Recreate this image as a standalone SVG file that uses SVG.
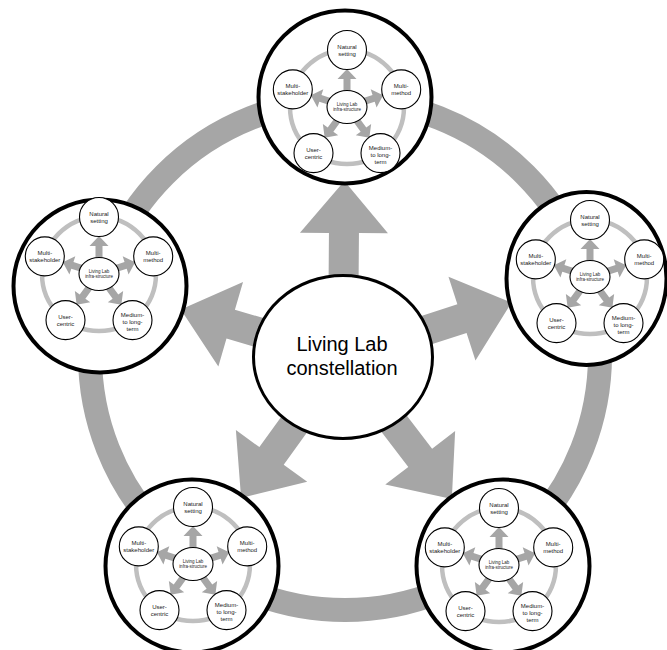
<svg xmlns="http://www.w3.org/2000/svg" xmlns:xlink="http://www.w3.org/1999/xlink" width="667" height="650" viewBox="0 0 667 650">
<style>
.ring{fill:none;stroke:#a6a6a6;stroke-width:24}
.arr{fill:#a6a6a6}
.big{fill:#fff;stroke:#000;stroke-width:4}
.ctr{fill:#fff;stroke:#000;stroke-width:3}
.iring{fill:none;stroke:#bfbfbf;stroke-width:4.5}
.iarr{fill:#a6a6a6}
.sc{fill:#fff;stroke:#000;stroke-width:1.1}
.t{font-family:"Liberation Sans",Arial,sans-serif;font-size:6px;text-anchor:middle;fill:#1a1a1a}
.ct{font-size:4.5px}
.main{font-family:"Liberation Sans",Arial,sans-serif;font-size:20px;text-anchor:middle;fill:#000}
</style>
<defs>
<path id="ia" d="M8,-3.5 H28 V-9.5 L38,0 L28,9.5 V3.5 H8 Z"/>
</defs>
<rect width="667" height="650" fill="#fff"/>
<g id="connectors">
<circle class="ring" cx="345" cy="355" r="255"/>
<path class="arr" transform="translate(343,357) rotate(-89.56)" d="M50,-15 H124 V-44 L176,0 L124,44 V15 H50 Z"/>
<path class="arr" transform="translate(343,357) rotate(-163.71)" d="M50,-15 H117 V-44 L169,0 L117,44 V15 H50 Z"/>
<path class="arr" transform="translate(343,357) rotate(-17.87)" d="M50,-15 H125 V-44 L177,0 L125,44 V15 H50 Z"/>
<path class="arr" transform="translate(343,357) rotate(125.85)" d="M50,-15 H122 V-44 L174,0 L122,44 V15 H50 Z"/>
<path class="arr" transform="translate(343,357) rotate(52.56)" d="M50,-15 H127 V-44 L179,0 L127,44 V15 H50 Z"/>
</g>
<g id="center">
<ellipse class="ctr" cx="343" cy="357" rx="89.5" ry="81.5"/>
<text class="main" x="342" y="351">Living Lab</text>
<text class="main" x="342" y="375">constellation</text>
</g>
<g id="node-top">
<circle class="big" cx="345" cy="97" r="86.5"/>
<g transform="translate(347,107)">
<circle class="iring" r="57"/>
<use xlink:href="#ia" class="iarr" transform="rotate(-90)"/>
<use xlink:href="#ia" class="iarr" transform="rotate(-18)"/>
<use xlink:href="#ia" class="iarr" transform="rotate(54)"/>
<use xlink:href="#ia" class="iarr" transform="rotate(126)"/>
<use xlink:href="#ia" class="iarr" transform="rotate(198)"/>
<ellipse class="sc" rx="20" ry="16.5"/>
<text class="t ct" y="-1.5">Living Lab</text><text class="t ct" y="4">infra-structure</text>
<circle class="sc" cx="0" cy="-57" r="19.5"/>
<text class="t" x="0" y="-58">Natural</text><text class="t" x="0" y="-51">setting</text>
<circle class="sc" cx="54.2" cy="-17.6" r="19.5"/>
<text class="t" x="54.2" y="-18.6">Multi-</text><text class="t" x="54.2" y="-11.6">method</text>
<circle class="sc" cx="33.5" cy="46.1" r="19.5"/>
<text class="t" x="33.5" y="42.6">Medium-</text><text class="t" x="33.5" y="49.6">to long-</text><text class="t" x="33.5" y="56.6">term</text>
<circle class="sc" cx="-33.5" cy="46.1" r="19.5"/>
<text class="t" x="-33.5" y="45.1">User-</text><text class="t" x="-33.5" y="52.1">centric</text>
<circle class="sc" cx="-54.2" cy="-17.6" r="19.5"/>
<text class="t" x="-54.2" y="-18.6">Multi-</text><text class="t" x="-54.2" y="-11.6">stakeholder</text>
</g>
</g>
<g id="node-left">
<circle class="big" cx="100" cy="286" r="86.5"/>
<g transform="translate(99,274)">
<circle class="iring" r="57"/>
<use xlink:href="#ia" class="iarr" transform="rotate(-90)"/>
<use xlink:href="#ia" class="iarr" transform="rotate(-18)"/>
<use xlink:href="#ia" class="iarr" transform="rotate(54)"/>
<use xlink:href="#ia" class="iarr" transform="rotate(126)"/>
<use xlink:href="#ia" class="iarr" transform="rotate(198)"/>
<ellipse class="sc" rx="20" ry="16.5"/>
<text class="t ct" y="-1.5">Living Lab</text><text class="t ct" y="4">infra-structure</text>
<circle class="sc" cx="0" cy="-57" r="19.5"/>
<text class="t" x="0" y="-58">Natural</text><text class="t" x="0" y="-51">setting</text>
<circle class="sc" cx="54.2" cy="-17.6" r="19.5"/>
<text class="t" x="54.2" y="-18.6">Multi-</text><text class="t" x="54.2" y="-11.6">method</text>
<circle class="sc" cx="33.5" cy="46.1" r="19.5"/>
<text class="t" x="33.5" y="42.6">Medium-</text><text class="t" x="33.5" y="49.6">to long-</text><text class="t" x="33.5" y="56.6">term</text>
<circle class="sc" cx="-33.5" cy="46.1" r="19.5"/>
<text class="t" x="-33.5" y="45.1">User-</text><text class="t" x="-33.5" y="52.1">centric</text>
<circle class="sc" cx="-54.2" cy="-17.6" r="19.5"/>
<text class="t" x="-54.2" y="-18.6">Multi-</text><text class="t" x="-54.2" y="-11.6">stakeholder</text>
</g>
</g>
<g id="node-right">
<ellipse class="big" cx="586.5" cy="278.5" rx="80" ry="86.5"/>
<g transform="translate(590,277)">
<circle class="iring" r="57"/>
<use xlink:href="#ia" class="iarr" transform="rotate(-90)"/>
<use xlink:href="#ia" class="iarr" transform="rotate(-18)"/>
<use xlink:href="#ia" class="iarr" transform="rotate(54)"/>
<use xlink:href="#ia" class="iarr" transform="rotate(126)"/>
<use xlink:href="#ia" class="iarr" transform="rotate(198)"/>
<ellipse class="sc" rx="20" ry="16.5"/>
<text class="t ct" y="-1.5">Living Lab</text><text class="t ct" y="4">infra-structure</text>
<circle class="sc" cx="0" cy="-57" r="19.5"/>
<text class="t" x="0" y="-58">Natural</text><text class="t" x="0" y="-51">setting</text>
<circle class="sc" cx="54.2" cy="-17.6" r="19.5"/>
<text class="t" x="54.2" y="-18.6">Multi-</text><text class="t" x="54.2" y="-11.6">method</text>
<circle class="sc" cx="33.5" cy="46.1" r="19.5"/>
<text class="t" x="33.5" y="42.6">Medium-</text><text class="t" x="33.5" y="49.6">to long-</text><text class="t" x="33.5" y="56.6">term</text>
<circle class="sc" cx="-33.5" cy="46.1" r="19.5"/>
<text class="t" x="-33.5" y="45.1">User-</text><text class="t" x="-33.5" y="52.1">centric</text>
<circle class="sc" cx="-54.2" cy="-17.6" r="19.5"/>
<text class="t" x="-54.2" y="-18.6">Multi-</text><text class="t" x="-54.2" y="-11.6">stakeholder</text>
</g>
</g>
<g id="node-bottom-left">
<circle class="big" cx="192" cy="566" r="86.5"/>
<g transform="translate(193,564)">
<circle class="iring" r="57"/>
<use xlink:href="#ia" class="iarr" transform="rotate(-90)"/>
<use xlink:href="#ia" class="iarr" transform="rotate(-18)"/>
<use xlink:href="#ia" class="iarr" transform="rotate(54)"/>
<use xlink:href="#ia" class="iarr" transform="rotate(126)"/>
<use xlink:href="#ia" class="iarr" transform="rotate(198)"/>
<ellipse class="sc" rx="20" ry="16.5"/>
<text class="t ct" y="-1.5">Living Lab</text><text class="t ct" y="4">infra-structure</text>
<circle class="sc" cx="0" cy="-57" r="19.5"/>
<text class="t" x="0" y="-58">Natural</text><text class="t" x="0" y="-51">setting</text>
<circle class="sc" cx="54.2" cy="-17.6" r="19.5"/>
<text class="t" x="54.2" y="-18.6">Multi-</text><text class="t" x="54.2" y="-11.6">method</text>
<circle class="sc" cx="33.5" cy="46.1" r="19.5"/>
<text class="t" x="33.5" y="42.6">Medium-</text><text class="t" x="33.5" y="49.6">to long-</text><text class="t" x="33.5" y="56.6">term</text>
<circle class="sc" cx="-33.5" cy="46.1" r="19.5"/>
<text class="t" x="-33.5" y="45.1">User-</text><text class="t" x="-33.5" y="52.1">centric</text>
<circle class="sc" cx="-54.2" cy="-17.6" r="19.5"/>
<text class="t" x="-54.2" y="-18.6">Multi-</text><text class="t" x="-54.2" y="-11.6">stakeholder</text>
</g>
</g>
<g id="node-bottom-right">
<circle class="big" cx="503" cy="566" r="86.5"/>
<g transform="translate(499,565)">
<circle class="iring" r="57"/>
<use xlink:href="#ia" class="iarr" transform="rotate(-90)"/>
<use xlink:href="#ia" class="iarr" transform="rotate(-18)"/>
<use xlink:href="#ia" class="iarr" transform="rotate(54)"/>
<use xlink:href="#ia" class="iarr" transform="rotate(126)"/>
<use xlink:href="#ia" class="iarr" transform="rotate(198)"/>
<ellipse class="sc" rx="20" ry="16.5"/>
<text class="t ct" y="-1.5">Living Lab</text><text class="t ct" y="4">infra-structure</text>
<circle class="sc" cx="0" cy="-57" r="19.5"/>
<text class="t" x="0" y="-58">Natural</text><text class="t" x="0" y="-51">setting</text>
<circle class="sc" cx="54.2" cy="-17.6" r="19.5"/>
<text class="t" x="54.2" y="-18.6">Multi-</text><text class="t" x="54.2" y="-11.6">method</text>
<circle class="sc" cx="33.5" cy="46.1" r="19.5"/>
<text class="t" x="33.5" y="42.6">Medium-</text><text class="t" x="33.5" y="49.6">to long-</text><text class="t" x="33.5" y="56.6">term</text>
<circle class="sc" cx="-33.5" cy="46.1" r="19.5"/>
<text class="t" x="-33.5" y="45.1">User-</text><text class="t" x="-33.5" y="52.1">centric</text>
<circle class="sc" cx="-54.2" cy="-17.6" r="19.5"/>
<text class="t" x="-54.2" y="-18.6">Multi-</text><text class="t" x="-54.2" y="-11.6">stakeholder</text>
</g>
</g>
</svg>
